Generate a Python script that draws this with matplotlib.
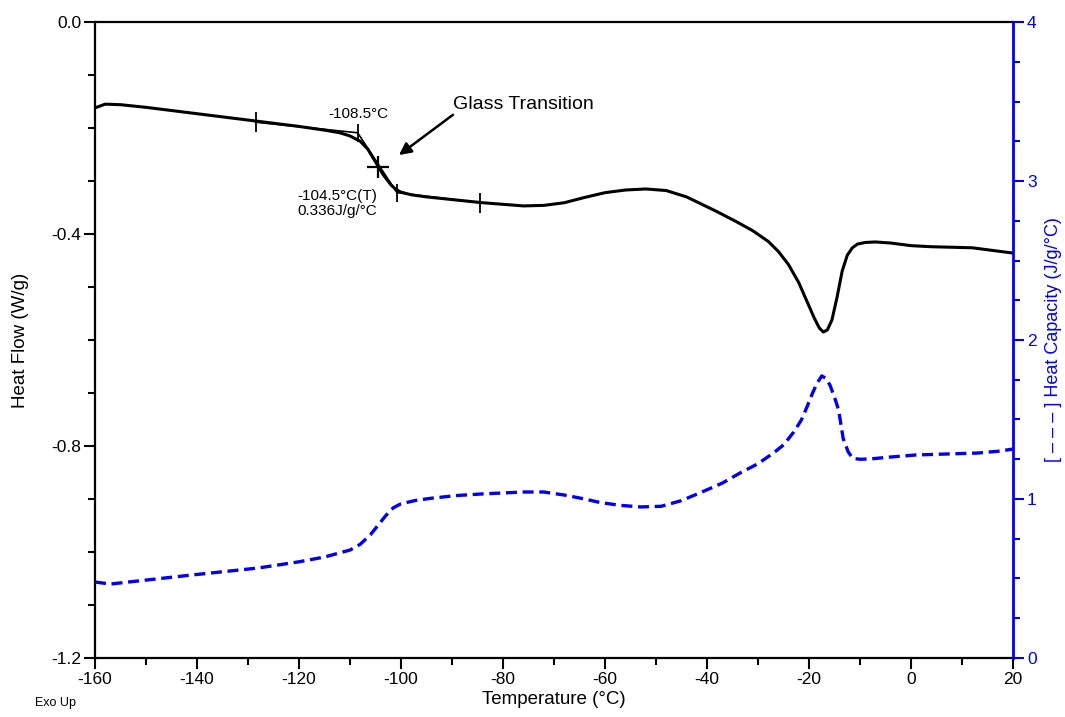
import matplotlib
matplotlib.use("Agg")
import matplotlib.pyplot as plt
from matplotlib.ticker import MultipleLocator, FormatStrFormatter

plt.rcParams['font.family'] = ['Liberation Sans', 'DejaVu Sans']
plt.rcParams['axes.unicode_minus'] = False

# heat flow (W/g) vs temperature
hf_temp = [-160, -158, -155, -150, -145, -140, -135, -130, -125, -120,
           -115, -112, -110, -108, -106.5, -105, -103.5, -102, -101, -100,
           -98, -95, -92, -88, -84, -80, -76, -72, -68, -64,
           -60, -56, -52, -48, -44, -41, -38, -34, -31, -28,
           -26, -24, -22, -20.5, -19, -18, -17.2, -16.4, -15.5, -14.5,
           -13.5, -12.5, -11.5, -10.5, -9, -7, -4, 0, 4, 8,
           12, 16, 20]
heat_flow = [-0.162, -0.155, -0.156, -0.161, -0.167, -0.173, -0.179, -0.185, -0.191, -0.197,
             -0.204, -0.209, -0.215, -0.225, -0.240, -0.264, -0.288, -0.307, -0.316, -0.321,
             -0.326, -0.330, -0.333, -0.337, -0.341, -0.344, -0.347, -0.346, -0.341, -0.331,
             -0.322, -0.317, -0.315, -0.318, -0.330, -0.344, -0.358, -0.378, -0.394, -0.414,
             -0.433, -0.458, -0.492, -0.525, -0.558, -0.577, -0.585, -0.581, -0.562, -0.519,
             -0.470, -0.440, -0.426, -0.419, -0.416, -0.415, -0.417, -0.422, -0.424, -0.425,
             -0.426, -0.431, -0.436]

# heat capacity (J/g/°C)
cp_temp = [-160, -157, -150, -141, -128, -120, -115, -110, -108, -106,
           -104.5, -103, -101.5, -100, -97, -94, -89, -84, -80, -76,
           -72, -68, -64, -61, -57, -53, -49, -45, -41, -37,
           -33.5, -30, -27, -25, -23, -21.5, -20.4, -19.3, -18.4, -17.5,
           -16.8, -15.9, -15, -14.2, -13.3, -12.3, -11.4, -10, -8, -4,
           1, 7, 13, 17, 20]
heat_cap = [0.478, 0.465, 0.490, 0.522, 0.566, 0.605, 0.635, 0.679, 0.715, 0.775,
            0.835, 0.895, 0.945, 0.970, 0.992, 1.005, 1.022, 1.032, 1.038, 1.044,
            1.044, 1.025, 1.000, 0.978, 0.960, 0.950, 0.954, 0.990, 1.044, 1.100,
            1.164, 1.222, 1.289, 1.340, 1.421, 1.497, 1.579, 1.667, 1.730, 1.774,
            1.761, 1.717, 1.640, 1.560, 1.380, 1.295, 1.255, 1.250, 1.252, 1.264,
            1.277, 1.283, 1.289, 1.300, 1.314]

# glass transition analysis: tangent construction
tg_line_temp = [-128.5, -108.5, -100.8, -84.5]
tg_line_hf = [-0.189, -0.209, -0.322, -0.341]
tg_mid = (-104.5, -0.273)
onset_label = "-108.5°C"
mid_label = "-104.5°C(T)\n0.336J/g/°C"

fig = plt.figure(figsize=(10.65, 7.17), dpi=100)
ax = fig.add_axes([0.0892, 0.0823, 0.862, 0.887])

ax.plot(hf_temp, heat_flow, color="black", lw=2.2, solid_joinstyle="round")
ax.plot(tg_line_temp, tg_line_hf, color="black", lw=1.2)
ax.plot([tg_line_temp[0], tg_line_temp[3]], [tg_line_hf[0], tg_line_hf[3]],
        ls="none", marker="|", ms=14, mew=1.3, color="black")
ax.plot([tg_line_temp[1], tg_line_temp[2]], [tg_line_hf[1], tg_line_hf[2]],
        ls="none", marker="|", ms=13, mew=1.3, color="black")
ax.plot([tg_mid[0]], [tg_mid[1]], ls="none", marker="+", ms=16, mew=1.6, color="black")

ax.text(-108.3, -0.173, onset_label, fontsize=11, ha="center", va="center")
ax.text(-120.4, -0.342, mid_label, fontsize=11, ha="left", va="center", linespacing=1.1)
ax.text(-89.8, -0.155, "Glass Transition", fontsize=14, ha="left", va="center")
ax.annotate("", xy=(-100.4, -0.251), xytext=(-89.8, -0.175),
            arrowprops=dict(arrowstyle="-|>", color="black", lw=1.8, mutation_scale=18,
                            shrinkA=0, shrinkB=0))

ax.set_xlim(-160, 20)
ax.set_ylim(-1.2, 0.0)
ax.xaxis.set_major_locator(MultipleLocator(20))
ax.xaxis.set_minor_locator(MultipleLocator(10))
ax.yaxis.set_major_locator(MultipleLocator(0.4))
ax.yaxis.set_minor_locator(MultipleLocator(0.1))
ax.yaxis.set_major_formatter(FormatStrFormatter("%.1f"))
ax.tick_params(which="major", direction="out", length=8, width=1.5, labelsize=12.5, pad=2)
ax.tick_params(which="minor", direction="out", length=5, width=1.5)
ax.tick_params(axis="x", which="both", top=False)
for s in ["left", "bottom", "top"]:
    ax.spines[s].set_linewidth(1.6)
ax.spines["right"].set_visible(False)
ax.set_xlabel("Temperature (°C)", fontsize=13.5, labelpad=3)
ax.set_ylabel("Heat Flow (W/g)", fontsize=13.5, labelpad=16)

ax2 = ax.twinx()
ln, = ax2.plot(cp_temp, heat_cap, color="#0000ee", lw=2.4)
ln.set_dashes((3.3, 1.7))
ax2.set_ylim(0, 4)
ax2.yaxis.set_major_locator(MultipleLocator(1))
ax2.yaxis.set_minor_locator(MultipleLocator(0.25))
ax2.tick_params(which="major", direction="out", length=8, width=1.5, labelsize=12.5,
                colors="#0000ee", pad=2)
ax2.tick_params(which="minor", direction="out", length=5, width=1.5, colors="#0000ee")
for s in ["left", "bottom", "top"]:
    ax2.spines[s].set_visible(False)
ax2.spines["right"].set_color("#0000ee")
ax2.spines["right"].set_linewidth(2.0)
ax2.set_ylabel("[ – – – ] Heat Capacity (J/g/°C)", fontsize=13, color="#0000ee", labelpad=6)

fig.text(35 / 1065, 1 - 703 / 717, "Exo Up", fontsize=9, ha="left", va="center")

fig.savefig("out.png", dpi=100)
